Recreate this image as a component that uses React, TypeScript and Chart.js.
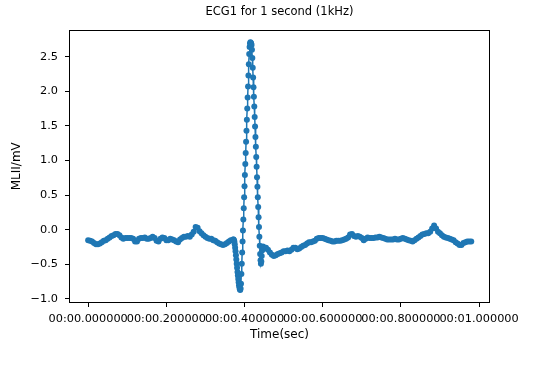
import React, { useEffect, useRef } from "react";
import { Chart, registerables } from "chart.js";

Chart.register(...registerables);

const chartTitle = "ECG1 for 1 second (1kHz)";
const xAxisTitle = "Time(sec)";
const yAxisTitle = "MLII/mV";

// sample times in milliseconds
const timeMs = [
  0, 5, 10, 15, 20, 25, 30, 35, 40, 45,
  50, 55, 60, 65, 70, 75, 80, 85, 90, 95,
  100, 105, 110, 115, 120, 125, 130, 135, 140, 145,
  150, 155, 160, 165, 170, 175, 180, 185, 190, 195,
  200, 205, 210, 215, 220, 225, 230, 235, 240, 245,
  250, 255, 260, 265, 270, 275, 280, 285, 290, 295,
  300, 305, 310, 315, 320, 325, 330, 335, 340, 345,
  350, 355, 360, 365, 370,
  371, 372, 373, 374, 375, 376, 377, 378, 379, 380,
  381, 382, 383, 384, 385, 386, 387, 388, 389, 390,
  391, 392, 393, 394, 395, 396, 397, 398, 399, 400,
  401, 402, 403, 404, 405, 406, 407, 408, 409, 410,
  411, 412, 413, 414, 415, 416, 417, 418, 419, 420,
  421, 422, 423, 424, 425, 426, 427, 428, 429, 430,
  431, 432, 433, 434, 435, 436, 437, 438, 439, 440,
  441, 442, 443, 444, 445, 446, 447, 448, 449, 450,
  455, 460, 465, 470, 475, 480, 485, 490, 495, 500,
  505, 510, 515, 520, 525, 530, 535, 540, 545, 550,
  555, 560, 565, 570, 575, 580, 585, 590, 595, 600,
  605, 610, 615, 620, 625, 630, 635, 640, 645, 650,
  655, 660, 665, 670, 675, 680, 685, 690, 695, 700,
  705, 710, 715, 720, 725, 730, 735, 740, 745, 750,
  755, 760, 765, 770, 775, 780, 785, 790, 795, 800,
  805, 810, 815, 820, 825, 830, 835, 840, 845, 850,
  855, 860, 865, 870, 875, 880, 885, 890, 895, 900,
  905, 910, 915, 920, 925, 930, 935, 940, 945, 950,
  955, 960, 965, 970, 975, 980,
];

// MLII voltage in mV
const ecgMv = [
  -0.15, -0.16, -0.17, -0.19, -0.21, -0.21, -0.20, -0.18, -0.16, -0.15,
  -0.13, -0.11, -0.09, -0.08, -0.06, -0.06, -0.08, -0.11, -0.13, -0.12,
  -0.12, -0.12, -0.12, -0.13, -0.17, -0.17, -0.13, -0.12, -0.12, -0.11,
  -0.13, -0.13, -0.12, -0.10, -0.12, -0.16, -0.17, -0.13, -0.11, -0.12,
  -0.15, -0.15, -0.13, -0.14, -0.15, -0.17, -0.18, -0.14, -0.12, -0.10,
  -0.10, -0.09, -0.10, -0.07, -0.03, 0.04, 0.03, -0.02, -0.05, -0.08,
  -0.10, -0.12, -0.13, -0.13, -0.15, -0.16, -0.18, -0.20, -0.21, -0.22,
  -0.21, -0.19, -0.17, -0.15, -0.15,
  -0.14, -0.14, -0.15, -0.17, -0.21, -0.26, -0.31, -0.37, -0.43, -0.49,
  -0.55, -0.61, -0.66, -0.71, -0.76, -0.80, -0.83, -0.86, -0.87, -0.85,
  -0.78, -0.64, -0.49, -0.33, -0.17, -0.01, 0.15, 0.31, 0.47, 0.63,
  0.79, 0.95, 1.11, 1.27, 1.43, 1.59, 1.75, 1.91, 2.07, 2.23,
  2.39, 2.54, 2.64, 2.69, 2.71, 2.70, 2.69, 2.67, 2.60, 2.48,
  2.34, 2.20, 2.06, 1.92, 1.78, 1.63, 1.49, 1.34, 1.20, 1.05,
  0.91, 0.76, 0.62, 0.47, 0.33, 0.18, 0.04, -0.10, -0.23, -0.35,
  -0.44, -0.49, -0.46, -0.38, -0.30, -0.25, -0.24, -0.25, -0.26, -0.27,
  -0.26, -0.29, -0.33, -0.36, -0.38, -0.37, -0.35, -0.34, -0.33, -0.31,
  -0.31, -0.30, -0.31, -0.29, -0.26, -0.26, -0.28, -0.27, -0.25, -0.23,
  -0.22, -0.20, -0.18, -0.18, -0.17, -0.16, -0.13, -0.12, -0.12, -0.12,
  -0.13, -0.14, -0.15, -0.16, -0.17, -0.17, -0.16, -0.16, -0.16, -0.15,
  -0.14, -0.13, -0.11, -0.07, -0.06, -0.09, -0.10, -0.09, -0.10, -0.12,
  -0.15, -0.13, -0.11, -0.12, -0.12, -0.12, -0.11, -0.11, -0.10, -0.11,
  -0.12, -0.13, -0.14, -0.14, -0.14, -0.14, -0.13, -0.14, -0.14, -0.13,
  -0.12, -0.13, -0.14, -0.15, -0.16, -0.17, -0.15, -0.13, -0.11, -0.09,
  -0.07, -0.06, -0.05, -0.05, -0.03, 0.02, 0.06, 0.02, -0.03, -0.05,
  -0.08, -0.10, -0.11, -0.12, -0.13, -0.14, -0.15, -0.18, -0.20, -0.22,
  -0.22, -0.19, -0.18, -0.17, -0.17, -0.17,
];

const xTickValues = [0, 200, 400, 600, 800, 1000];
const yTickValues = [-1.0, -0.5, 0.0, 0.5, 1.0, 1.5, 2.0, 2.5];

const FONT = "'DejaVu Sans', sans-serif";

function formatTime(ms: number): string {
  const sec = ms / 1000;
  return "00:" + sec.toFixed(6).padStart(9, "0");
}

function formatMv(v: number): string {
  const s = Math.abs(v).toFixed(1);
  return v < 0 ? "\u2212" + s : s;
}

const framePlugin = {
  id: "frame",
  afterDatasetsDraw(chart: any) {
    const { ctx, chartArea } = chart;
    ctx.save();
    ctx.strokeStyle = "#000";
    ctx.lineWidth = 1;
    const l = Math.round(chartArea.left) + 0.5;
    const t = Math.round(chartArea.top) + 0.5;
    const r = Math.round(chartArea.right) - 0.5;
    const b = Math.round(chartArea.bottom) - 0.5;
    ctx.strokeRect(l, t, r - l, b - t);
    ctx.restore();
  },
  afterDraw(chart: any) {
    const { ctx, chartArea } = chart;
    ctx.save();
    ctx.fillStyle = "#000";
    ctx.font = `normal 11.5px ${FONT}`;
    ctx.textAlign = "center";
    ctx.textBaseline = "middle";
    ctx.fillText(chartTitle, (chartArea.left + chartArea.right) / 2, 12.5);
    ctx.restore();
  },
};

export default function App() {
  const canvasRef = useRef<HTMLCanvasElement | null>(null);

  useEffect(() => {
    if (!canvasRef.current) return;
    const points = timeMs.map((t, i) => ({ x: t, y: ecgMv[i] }));
    const chart = new Chart(canvasRef.current, {
      type: "line",
      data: {
        datasets: [
          {
            data: points,
            borderColor: "#1f77b4",
            backgroundColor: "#1f77b4",
            borderWidth: 1.5,
            pointRadius: 3,
            pointBorderWidth: 0,
            pointBackgroundColor: "#1f77b4",
            tension: 0,
            fill: false,
          },
        ],
      },
      options: {
        animation: false,
        responsive: true,
        maintainAspectRatio: false,
        layout: { padding: { left: 0, right: 49, top: 29.5, bottom: 0 } },
        plugins: {
          legend: { display: false },
          tooltip: { enabled: false },
          title: { display: false },
        },
        scales: {
          x: {
            type: "linear",
            min: -49,
            max: 1028,
            afterBuildTicks: (scale: any) => {
              scale.ticks = xTickValues.map((v) => ({ value: v }));
            },
            afterFit: (scale: any) => {
              scale.height = 62;
            },
            ticks: {
              autoSkip: false,
              maxRotation: 0,
              minRotation: 0,
              color: "#000",
              padding: 5.5,
              font: { family: FONT, size: 11.3 },
              callback: (v: any) => formatTime(Number(v)),
            },
            grid: {
              drawOnChartArea: false,
              drawTicks: true,
              tickLength: 4,
              color: "#000",
            },
            border: { display: false },
            title: {
              display: true,
              text: xAxisTitle,
              color: "#000",
              font: { family: FONT, size: 12 },
              padding: { top: 0, bottom: 22.8 },
            },
          },
          y: {
            type: "linear",
            min: -1.058,
            max: 2.893,
            afterBuildTicks: (scale: any) => {
              scale.ticks = yTickValues.map((v) => ({ value: v }));
            },
            afterFit: (scale: any) => {
              scale.width = 69;
            },
            ticks: {
              color: "#000",
              padding: 7,
              font: { family: FONT, size: 11.3 },
              callback: (v: any) => formatMv(Number(v)),
            },
            grid: {
              drawOnChartArea: false,
              drawTicks: true,
              tickLength: 4,
              color: "#000",
            },
            border: { display: false },
            title: {
              display: true,
              text: yAxisTitle,
              color: "#000",
              font: { family: FONT, size: 12 },
              padding: { top: 9.3, bottom: 0 },
            },
          },
        },
      },
      plugins: [framePlugin],
    });
    return () => chart.destroy();
  }, []);

  return (
    <div style={{ position: "fixed", left: 0, top: 0, width: 539, height: 365, background: "#fff" }}>
      <canvas ref={canvasRef} />
    </div>
  );
}
